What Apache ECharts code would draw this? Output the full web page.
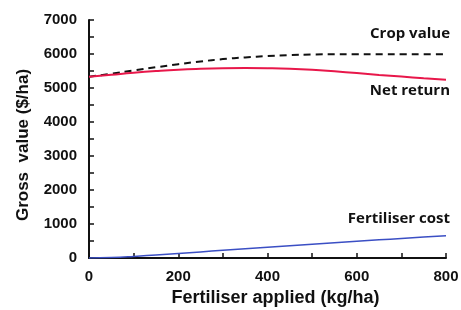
<!DOCTYPE html>
<html>
<head>
<meta charset="utf-8">
<script src="https://cdn.jsdelivr.net/npm/echarts@6/dist/echarts.min.js"></script>
<style>
  html, body { margin: 0; padding: 0; background: #fff; }
  #chart { width: 461px; height: 310px; }
</style>
</head>
<body>
<div id="chart"></div>
<script>
(function() {
  // fertiliser rate (kg/ha)
  var rates = [0, 50, 100, 150, 200, 250, 300, 350, 400, 450, 500, 550, 600, 650, 700, 750, 800];
  var cropValue = [5330, 5420, 5520, 5610, 5700, 5780, 5850, 5900, 5940, 5970, 5985, 5990, 5990, 5990, 5990, 5990, 5990];
  var netReturn = [5330, 5390, 5450, 5500, 5540, 5565, 5580, 5585, 5580, 5565, 5535, 5490, 5440, 5385, 5335, 5285, 5240];
  var fertCost = [0, 12, 45, 90, 135, 180, 225, 270, 315, 360, 405, 450, 495, 535, 575, 615, 655];

  function pairs(ys) {
    return rates.map(function(x, i) { return [x, ys[i]]; });
  }

  var myChart = echarts.init(document.getElementById('chart'));
  var bold = { fontFamily: 'Liberation Sans', fontWeight: 'bold', color: '#111' };
  var tick = { show: true, inside: true, length: 5, lineStyle: { color: '#111', width: 1.5 } };
  var noteFont = 'bold 15px "Open Sans", sans-serif';

  var option = {
    backgroundColor: '#fff',
    animation: false,
    grid: { left: 89, right: 15, top: 20, bottom: 52, outerBoundsMode: 'none' },
    xAxis: {
      type: 'value',
      min: 0, max: 800, interval: 100,
      name: 'Fertiliser applied (kg/ha)',
      nameLocation: 'middle',
      nameGap: 31,
      nameTextStyle: { fontFamily: 'Liberation Sans', fontWeight: 'bold', fontSize: 18, color: '#111', padding: [0, 0, 0, 16] },
      axisLine: { lineStyle: { color: '#111', width: 2 } },
      axisTick: tick,
      axisLabel: Object.assign({
        fontSize: 15, margin: 11,
        formatter: function(v) { return v % 200 === 0 ? String(v) : ''; }
      }, bold),
      splitLine: { show: false }
    },
    yAxis: {
      type: 'value',
      min: 0, max: 7000, interval: 500,
      name: 'Gross  value ($/ha)',
      nameLocation: 'middle',
      nameGap: 57,
      nameTextStyle: { fontFamily: 'Liberation Sans', fontWeight: 'bold', fontSize: 17, color: '#111', padding: [0, 12, 0, 0] },
      axisLine: { show: true, lineStyle: { color: '#111', width: 2 } },
      axisTick: tick,
      axisLabel: Object.assign({
        fontSize: 15, margin: 12,
        formatter: function(v) { return v % 1000 === 0 ? String(v) : ''; }
      }, bold),
      splitLine: { show: false }
    },
    series: [
      {
        name: 'Crop value', type: 'line', smooth: true, showSymbol: false,
        data: pairs(cropValue),
        lineStyle: { color: '#111', width: 2, type: [7, 5] }
      },
      {
        name: 'Net return', type: 'line', smooth: true, showSymbol: false,
        data: pairs(netReturn),
        lineStyle: { color: '#e8174a', width: 2 }
      },
      {
        name: 'Fertiliser cost', type: 'line', smooth: true, showSymbol: false,
        data: pairs(fertCost),
        lineStyle: { color: '#3b4fc4', width: 1.5 }
      }
    ],
    graphic: [
      { type: 'text', right: 11, top: 26, style: { text: 'Crop value', font: noteFont, fill: '#111' } },
      { type: 'text', right: 11, top: 83, style: { text: 'Net return', font: noteFont, fill: '#111' } },
      { type: 'text', right: 11, top: 211, style: { text: 'Fertiliser cost', font: noteFont, fill: '#111' } }
    ]
  };

  myChart.setOption(option);
  window.addEventListener('resize', function() {
    myChart.resize();
  });
})();
</script>
</body>
</html>
